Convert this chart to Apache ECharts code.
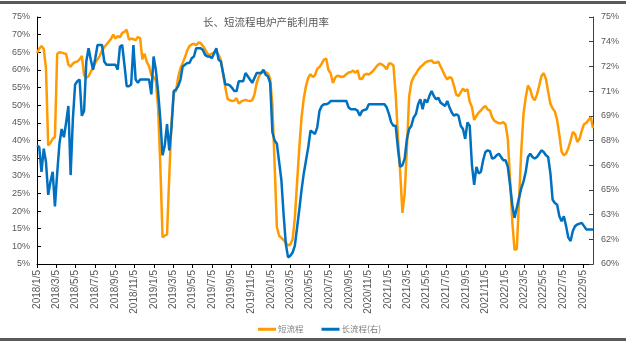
<!DOCTYPE html>
<html>
<head>
<meta charset="utf-8">
<script src="https://cdn.jsdelivr.net/npm/echarts@6/dist/echarts.min.js"></script>
<style>
  html, body { margin: 0; padding: 0; background: #fff; }
  #chart { width: 626px; height: 343px; }
</style>
</head>
<body>
<div id="chart"></div>
<script>
// Weekly readings, first week ending 2018/1/5
const firstWeek = '2018/1/5';

// 短流程 electric furnace capacity utilisation (%), left axis
const shortFlow = [
  64.8, 66.0, 66.8, 66.0, 60.5, 38.6, 39.3, 40.5, 41.0, 64.5,
  65.0, 64.9, 64.7, 64.5, 61.5, 60.9, 61.8, 62.2, 62.4, 63.0,
  64.0, 58.5, 57.8, 58.2, 59.5, 60.5, 62.0, 63.0, 64.0, 65.5,
  66.4, 67.2, 68.0, 68.8, 70.0, 68.9, 69.6, 69.2, 70.5, 70.8,
  71.4, 68.6, 68.9, 68.7, 68.5, 69.3, 69.0, 63.0, 64.6, 62.2,
  61.0, 58.5, 58.0, 57.0, 49.5, 33.0, 12.6, 13.0, 13.4, 30.0,
  45.0, 53.5, 54.0, 58.0, 60.5, 62.0, 63.6, 65.5, 66.8, 67.2,
  67.4, 67.0, 67.8, 67.6, 66.8, 65.8, 64.6, 64.3, 64.6, 65.0,
  65.1, 64.3, 62.8, 59.0, 55.0, 51.8, 51.4, 51.2, 51.3, 52.0,
  50.5, 51.0, 51.3, 51.5, 51.3, 51.2, 51.4, 53.0, 56.3, 58.2,
  59.2, 59.5, 59.4, 59.0, 57.5, 50.0, 33.0, 15.5, 13.0, 12.4,
  11.8, 11.0, 10.3, 10.5, 12.0, 18.0, 28.0, 38.0, 46.5, 52.0,
  55.5, 57.8, 58.8, 58.0, 58.5, 60.3, 60.8, 61.8, 62.9, 63.2,
  60.0, 59.0, 56.3, 57.8, 58.4, 58.2, 58.0, 58.2, 58.8, 59.3,
  59.4, 59.8, 59.2, 59.9, 57.4, 57.5, 58.6, 58.9, 58.7, 59.2,
  59.8, 60.6, 61.4, 61.8, 61.5, 61.0, 60.2, 61.8, 61.8, 61.2,
  53.0, 41.0, 31.0, 19.5, 25.0, 38.0, 52.5, 56.5, 58.0, 58.9,
  60.0, 60.8, 61.3, 62.0, 62.4, 62.5, 62.7, 62.0, 62.0, 62.4,
  61.0, 59.7, 58.3, 57.3, 58.0, 57.6, 55.5, 53.0, 52.6, 53.7,
  54.7, 54.0, 54.5, 51.0, 49.5, 45.8, 47.0, 47.9, 48.5, 49.3,
  49.8, 48.8, 48.5, 46.6, 45.6, 45.2, 44.9, 44.9, 45.2, 44.5,
  40.5, 29.0, 17.0, 9.0, 9.2, 23.0, 37.0, 47.5, 52.3, 55.6,
  54.5, 52.2, 51.4, 53.0, 55.5, 58.3, 59.1, 57.5, 53.8, 50.4,
  49.1, 48.2, 45.8, 41.5, 36.8, 35.8, 36.3, 37.8, 40.0, 42.4,
  41.8, 39.6, 40.5, 42.8, 44.6, 45.0, 45.8, 46.6, 43.5
];

// 长流程 electric furnace capacity utilisation (%), right axis
const longFlow = [
  67.2, 67.1, 65.6, 67.0, 66.2, 64.2, 65.0, 65.6, 63.5, 65.5,
  67.3, 68.2, 67.7, 68.6, 69.6, 65.4, 68.8, 70.9, 71.1, 71.2,
  69.0, 69.3, 72.3, 73.1, 72.4, 71.8, 72.5, 73.3, 73.3, 73.3,
  72.3, 72.1, 72.1, 72.1, 72.1, 72.1, 71.8, 73.2, 73.3, 72.1,
  70.8, 70.8, 70.9, 73.3, 71.2, 71.0, 71.2, 71.2, 71.2, 71.2,
  71.2, 70.3, 72.6, 71.8, 70.5, 68.8, 66.6, 67.2, 68.5, 66.9,
  68.3, 70.5, 70.6, 70.8, 71.2, 72.0, 72.1, 72.2, 72.2, 72.5,
  72.6, 73.1, 73.1, 73.1, 73.0, 72.7, 72.6, 72.6, 72.5, 72.8,
  73.1, 72.4, 72.3, 71.6, 70.9, 70.9, 70.85, 70.7, 70.5, 70.5,
  71.1, 71.1, 71.1, 71.6, 71.4, 71.2, 71.0, 71.3, 71.6, 71.6,
  71.6, 71.8, 71.5, 71.4, 71.0, 68.0, 67.5, 67.3, 66.2, 65.1,
  63.0, 61.2, 60.4, 60.5, 60.7, 61.1, 62.2, 63.3, 64.5, 65.5,
  66.3, 67.1, 68.1, 68.0, 67.9, 68.3, 69.3, 69.6, 69.7, 69.7,
  69.75, 69.9, 69.9, 69.9, 69.9, 69.9, 69.9, 69.9, 69.9, 69.5,
  69.4, 69.4, 69.4, 69.3, 69.0, 69.3, 69.35, 69.4, 69.7, 69.7,
  69.7, 69.7, 69.7, 69.7, 69.7, 69.7, 69.5, 69.1, 68.6, 68.4,
  68.4, 67.0, 65.9, 66.0, 66.4, 67.6, 68.2, 68.4, 68.9, 69.1,
  69.7, 70.0, 69.4, 70.0, 69.8, 70.2, 70.5, 70.2, 70.0, 70.1,
  69.8, 69.7, 69.6, 69.9, 69.5, 69.2, 69.0, 69.1, 69.0, 68.4,
  68.2, 67.6, 68.6, 68.4, 66.0, 64.8, 65.9, 65.5, 65.6, 66.3,
  66.8, 66.9, 66.85, 66.4, 66.45, 66.6, 66.7, 66.5, 66.3, 66.3,
  65.9, 64.8, 63.6, 62.8, 63.4, 64.0, 64.6, 65.0, 65.6, 66.5,
  66.7, 66.5, 66.4, 66.5, 66.7, 66.9, 66.8, 66.6, 66.5, 65.5,
  63.9, 63.7, 63.6, 62.9, 62.6, 62.9, 62.3, 61.6, 61.4, 62.0,
  62.3, 62.4, 62.45, 62.5, 62.3, 62.1, 62.1, 62.1, 62.1
];

// Date labels along the bottom axis, every second month
const tickLabels = [
  '2018/1/5', '2018/3/5', '2018/5/5', '2018/7/5', '2018/9/5', '2018/11/5',
  '2019/1/5', '2019/3/5', '2019/5/5', '2019/7/5', '2019/9/5', '2019/11/5',
  '2020/1/5', '2020/3/5', '2020/5/5', '2020/7/5', '2020/9/5', '2020/11/5',
  '2021/1/5', '2021/3/5', '2021/5/5', '2021/7/5', '2021/9/5', '2021/11/5',
  '2022/1/5', '2022/3/5', '2022/5/5', '2022/7/5', '2022/9/5'
];

const seriesNames = ['短流程', '长流程(右)'];
const titleText = '长、短流程电炉产能利用率';

// Day offsets measured from the first week
const DAY = 86400000;
function toUTC(s) {
  const p = s.split('/').map(Number);
  return Date.UTC(p[0], p[1] - 1, p[2]);
}
const t0 = toUTC(firstWeek);
const dayOf = s => Math.round((toUTC(s) - t0) / DAY);

const tickDays = tickLabels.map(dayOf);
const labelByDay = {};
tickLabels.forEach((s, k) => { labelByDay[tickDays[k]] = s; });

const shortData = shortFlow.map((v, i) => [i * 7, v]);
const longData = longFlow.map((v, i) => [i * 7, v]);
const lastDay = (shortFlow.length - 1) * 7;

const grey = '#595959';
const numFont = "'Liberation Sans Narrow', 'Liberation Sans', Arial, sans-serif";
const cjkFont = "'Noto Sans CJK SC', sans-serif";

const chart = echarts.init(document.getElementById('chart'), null, { renderer: 'canvas' });
chart.setOption({
  animation: false,
  backgroundColor: '#ffffff',
  title: {
    text: titleText,
    left: 198,
    top: 12,
    textStyle: { fontFamily: cjkFont, fontSize: 10.5, fontWeight: 'normal', color: grey }
  },
  legend: {
    data: seriesNames,
    left: 253,
    top: 320,
    icon: 'rect',
    itemWidth: 18,
    itemHeight: 3,
    itemGap: 18,
    textStyle: { fontFamily: cjkFont, fontSize: 8.5, color: '#7f7f7f', padding: [0, 0, 0, -3] }
  },
  grid: { left: 37, right: 33, top: 17, bottom: 79, containLabel: false },
  xAxis: {
    type: 'value',
    min: 0,
    max: lastDay,
    splitLine: { show: false },
    axisLine: { show: true, onZero: false, lineStyle: { color: '#000', width: 1 } },
    axisTick: { show: true, length: 4, customValues: tickDays, lineStyle: { color: '#000' } },
    axisLabel: {
      customValues: tickDays,
      rotate: 90,
      margin: 6,
      fontFamily: numFont,
      fontSize: 10,
      color: grey,
      formatter: v => labelByDay[v] || ''
    }
  },
  yAxis: [
    {
      type: 'value',
      min: 5,
      max: 75,
      interval: 5,
      splitLine: { show: false },
      axisLine: { show: true, lineStyle: { color: '#000' } },
      axisTick: { show: true, inside: true, length: 4, lineStyle: { color: '#000' } },
      axisLabel: { fontFamily: numFont, fontSize: 9, color: grey, margin: 7, formatter: v => v + '%' }
    },
    {
      type: 'value',
      min: 60,
      max: 75,
      interval: 1.5,
      position: 'right',
      splitLine: { show: false },
      axisLine: { show: true, lineStyle: { color: '#404040' } },
      axisTick: { show: true, inside: true, length: 4, lineStyle: { color: '#404040' } },
      axisLabel: { fontFamily: numFont, fontSize: 9, color: grey, margin: 8, formatter: v => Math.round(v) + '%' }
    }
  ],
  series: [
    {
      name: seriesNames[0],
      type: 'line',
      yAxisIndex: 0,
      data: shortData,
      showSymbol: false,
      lineStyle: { color: '#FF9A00', width: 2.5 },
      itemStyle: { color: '#FF9A00' },
      z: 2
    },
    {
      name: seriesNames[1],
      type: 'line',
      yAxisIndex: 1,
      data: longData,
      showSymbol: false,
      lineStyle: { color: '#0070C0', width: 2.5 },
      itemStyle: { color: '#0070C0' },
      z: 3
    }
  ],
  graphic: [
    { type: 'rect', left: 0, top: 1, shape: { width: 626, height: 3 }, style: { fill: '#5a5a5a' }, silent: true },
    { type: 'rect', left: 0, top: 338, shape: { width: 626, height: 3 }, style: { fill: '#5a5a5a' }, silent: true }
  ]
});
</script>
</body>
</html>
